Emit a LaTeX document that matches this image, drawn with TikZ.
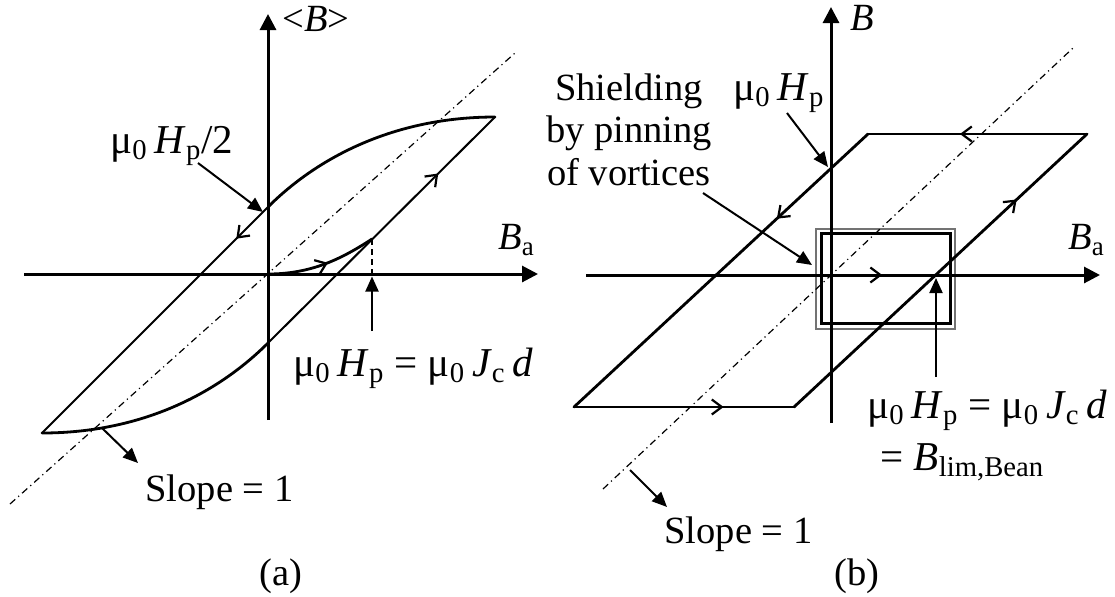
\documentclass[tikz,border=0pt]{standalone}
\usepackage{fontspec}
\setmainfont{Liberation Serif}
\usetikzlibrary{arrows.meta,decorations.markings}
\newcommand\mysub[1]{\textsubscript{#1}}
\begin{document}
\begin{tikzpicture}[x=0.5pt,y=-0.5pt,
  axisline/.style={line width=1.5pt,-{Triangle[length=8pt,width=8pt]}},
  annot/.style={line width=1pt,-{Triangle[length=7.5pt,width=6.5pt]}},
  thinloop/.style={line width=1pt,line cap=round},
  curveloop/.style={line width=1.4pt,line cap=round},
  boldloop/.style={line width=1.4pt,line cap=round},
  diag/.style={line width=0.6pt,dash pattern=on 3.5pt off 2pt on 0.6pt off 2pt},
  lbl/.style={inner sep=0pt,font=\fontsize{19.25}{23}\selectfont},
  formula/.style={inner sep=0pt,font=\fontsize{20.5}{24}\selectfont},
  chev/.style={postaction={decorate},decoration={markings,mark=at position #1 with {\arrow{Straight Barb[length=5pt,width=7.5pt,line width=1.1pt]}}}},
]
\useasboundingbox (0,0) rectangle (1115,596);
% ---------------- panel (a) ----------------
\coordinate (Oa) at (268,274);
\coordinate (aXl) at (24,274);
\coordinate (aXr) at (538,274);
\coordinate (aYb) at (268,420);
\coordinate (aYt) at (268,14);
\coordinate (aTR) at (495,117);
\coordinate (aBL) at (42,433);
\coordinate (aUY) at (268,207);
\coordinate (aLY) at (268,343);
\coordinate (aV) at (372,239);
\coordinate (aVx) at (372,274);
\coordinate (aDd1) at (10,504);
\coordinate (aDd2) at (515,53);
\draw[diag] (aDd1) -- (aDd2);
\draw[axisline] (aXl) -- (aXr);
\draw[axisline] (aYb) -- (aYt);
\node[lbl,anchor=base west] (aBlab) at (282,31) {\textless\textit{B}\textgreater};
\node[lbl,anchor=base west] (aBa) at (498,249) {\textit{B}\mysub{a}};
\draw[curveloop] (aTR) .. controls (395,117) and (318,157) .. (aUY);
\draw[thinloop,chev=0.14] (aUY) -- (aBL);
\draw[curveloop] (aBL) .. controls (142,433) and (218,393) .. (aLY);
\draw[thinloop,chev=0.75] (aLY) -- (aTR);
\draw[curveloop,chev=0.55] (Oa) .. controls (310,274) and (340,260) .. (aV);
\draw[line width=1pt,dash pattern=on 3pt off 2pt] (aV) -- (aVx);
\node[formula,anchor=base west] (aHp2) at (110,153) {μ\mysub{0}\,\textit{H}\mysub{p}/2};
\coordinate (aHp2s) at (198,163);
\coordinate (aHp2t) at (263,212);
\draw[annot] (aHp2s) -- (aHp2t);
\node[formula,anchor=base west] (aForm) at (293,376) {μ\mysub{0}\,\textit{H}\mysub{p} = μ\mysub{0}\,\textit{J}\mysub{c}\,\textit{d}};
\coordinate (aUpS) at (372,331);
\coordinate (aUpT) at (372,276.5);
\draw[annot] (aUpS) -- (aUpT);
\coordinate (aSlS) at (102,428);
\coordinate (aSlT) at (138,463);
\draw[annot] (aSlS) -- (aSlT);
\node[lbl,anchor=base west] (aSlope) at (145,501) {Slope = 1};
\node[lbl,anchor=base] (aCap) at (281,585) {(a)};
% ---------------- panel (b) ----------------
\coordinate (Ob) at (831,275);
\coordinate (bXl) at (586,275);
\coordinate (bXr) at (1100,275);
\coordinate (bYb) at (831,423);
\coordinate (bYt) at (831,7);
\coordinate (bTL) at (868,134);
\coordinate (bTR) at (1087,134);
\coordinate (bBR) at (794,407);
\coordinate (bBL) at (574,407);
\coordinate (bXc) at (935.5,275);
\coordinate (bDd1) at (603,489);
\coordinate (bDd2) at (1073,48);
\draw[draw=black!55,line width=1pt] (816,229) rectangle (955,329);
\draw[line width=1.5pt] (821,233) rectangle (950,323);
\draw[diag] (bDd1) -- (bDd2);
\draw[axisline] (bXl) -- (bXr);
\draw[axisline] (bYb) -- (bYt);
\node[lbl,anchor=base west] (bBlab) at (850,30) {\textit{B}};
\node[lbl,anchor=base west] (bBa) at (1068,249) {\textit{B}\mysub{a}};
\draw[boldloop,chev=0.58] (bTR) -- (bTL);
\draw[boldloop,chev=0.31] (bTL) -- (bBL);
\draw[boldloop,chev=0.68] (bBL) -- (bBR);
\draw[boldloop,chev=0.76] (bBR) -- (bTR);
\draw[line width=1.5pt,chev=0.49] (Ob) -- (bXc);
\node[formula,anchor=base west] (bHp) at (733,100) {μ\mysub{0}\,\textit{H}\mysub{p}};
\coordinate (bHpS) at (787,113);
\coordinate (bHpT) at (828,167);
\draw[annot] (bHpS) -- (bHpT);
\node[lbl,anchor=base] (bSh1) at (629,100) {Shielding};
\node[lbl,anchor=base] (bSh2) at (629,142) {by pinning};
\node[lbl,anchor=base] (bSh3) at (629,185) {of vortices};
\coordinate (bShS) at (703,193);
\coordinate (bShT) at (812,265);
\draw[annot] (bShS) -- (bShT);
\node[formula,anchor=base west] (bForm1) at (867,418) {μ\mysub{0}\,\textit{H}\mysub{p} = μ\mysub{0}\,\textit{J}\mysub{c}\,\textit{d}};
\node[formula,anchor=base west] (bForm2) at (880,470) {= \textit{B}\mysub{lim,Bean}};
\coordinate (bUpS) at (936,377);
\coordinate (bUpT) at (936,278);
\draw[annot] (bUpS) -- (bUpT);
\coordinate (bSlS) at (630,470);
\coordinate (bSlT) at (667,507);
\draw[annot] (bSlS) -- (bSlT);
\node[lbl,anchor=base west] (bSlope) at (664,543) {Slope = 1};
\node[lbl,anchor=base] (bCap) at (857,585) {(b)};
\end{tikzpicture}
\end{document}
